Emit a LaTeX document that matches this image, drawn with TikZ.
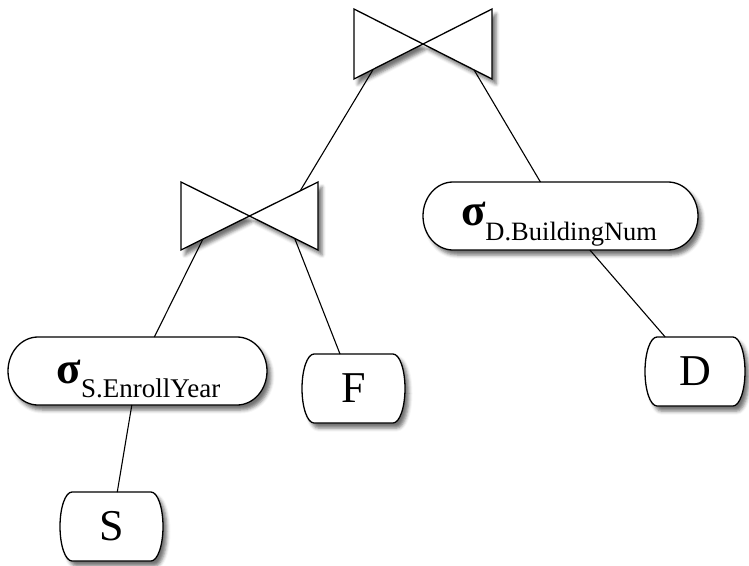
\documentclass[tikz,border=0pt]{standalone}
\usepackage{fontspec}
\setmainfont{Liberation Serif}
\usetikzlibrary{calc,shadows.blur}
\tikzset{
 holder/.style={draw=none,inner sep=0pt,outer sep=0pt,font=\fontsize{44}{48}\selectfont},
 shapeline/.style={line width=1.3pt,fill=white,blur shadow={shadow xshift=4pt,shadow yshift=-5pt,shadow blur radius=3.5pt,shadow opacity=55}},
 conn/.style={line width=1.1pt},
 sigmatext/.style={anchor=base,inner sep=0pt,outer sep=0pt},
}
\newcommand\pillshape[3]{%
 \draw[shapeline] ([xshift=#2]#1.north west) -- ([xshift=-#2]#1.north east)
   arc[start angle=90,end angle=-90,x radius=#2,y radius=#3]
   -- ([xshift=#2]#1.south west)
   arc[start angle=270,end angle=90,x radius=#2,y radius=#3] -- cycle;}
\newcommand\bowtieshape[1]{%
 \draw[shapeline,line join=miter] (#1.north west) -- (#1.south east) -- (#1.north east) -- (#1.south west) -- cycle;}
\newcommand\sigmaglyph{{\fontsize{45}{48}\selectfont\bfseries σ}}
\begin{document}
\begin{tikzpicture}[x=1pt,y=1pt]
\useasboundingbox (0,0) rectangle (749,-565);
% holders
\node[holder,minimum width=138,minimum height=70] (j1) at (423,-44) {};
\node[holder,minimum width=137,minimum height=68] (j2) at (249.5,-216) {};
\node[holder,minimum width=275,minimum height=68] (sd) at (560.5,-216) {};
\node[holder,minimum width=259,minimum height=68] (ss) at (137.5,-371) {};
\node[holder,minimum width=103,minimum height=69] (F) at (353.5,-388.5) {};
\node[holder,minimum width=100,minimum height=69] (D) at (695,-371.5) {};
\node[holder,minimum width=103,minimum height=69] (S) at (111.5,-526.5) {};
% shapes
\bowtieshape{j1}
\bowtieshape{j2}
\pillshape{sd}{30}{34}
\pillshape{ss}{30}{34}
\pillshape{F}{12}{34.5}
\pillshape{D}{12}{34.5}
\pillshape{S}{12}{34.5}
% texts
\node[holder] at (F) {F};
\node[holder] at (D) {D};
\node[holder] at (S) {S};
\node[sigmatext] (sdt) at (559,-225) {\sigmaglyph\raisebox{-15pt}{\fontsize{26.5}{30}\selectfont D.BuildingNum}};
\node[sigmatext] (sst) at (138.5,-383) {\sigmaglyph\raisebox{-14pt}{\fontsize{27}{30}\selectfont S.EnrollYear}};
% connection points on the join symbols
\coordinate (j1l) at ($(j1.center)!0.72!(j1.south west)$);
\coordinate (j1r) at ($(j1.center)!0.74!(j1.south east)$);
\coordinate (j2t) at ($(j2.center)!0.74!(j2.north east)$);
\coordinate (j2l) at ($(j2.center)!0.68!(j2.south west)$);
\coordinate (j2r) at ($(j2.center)!0.66!(j2.south east)$);
% edges
\draw[conn] (j1l) -- (j2t);
\draw[conn] (j1r) -- (sd);
\draw[conn] (j2l) -- (ss);
\draw[conn] (j2r) -- (F);
\draw[conn] (sd) -- (D);
\draw[conn] (ss) -- (S);
\end{tikzpicture}
\end{document}
